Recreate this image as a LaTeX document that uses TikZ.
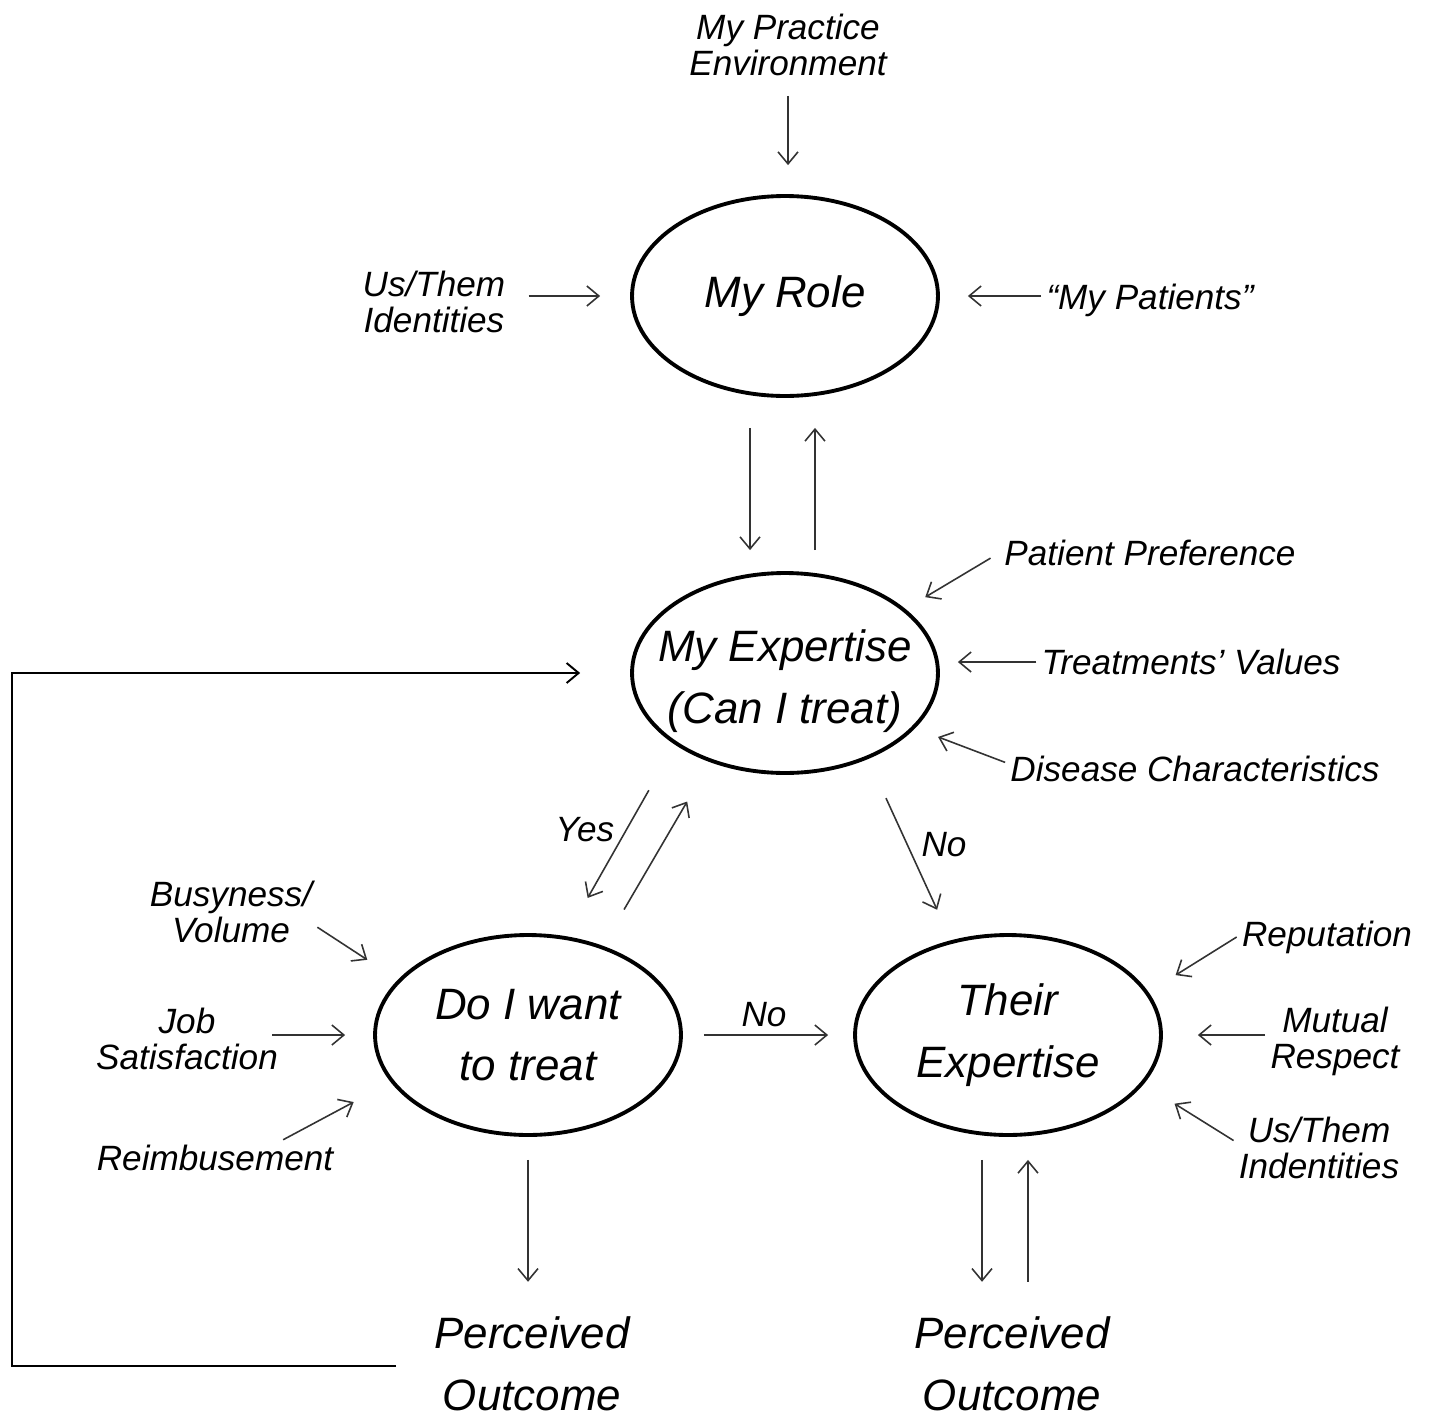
\documentclass[tikz,border=0pt]{standalone}
\usepackage{fontspec}
\setmainfont{Liberation Sans}
\usetikzlibrary{shapes.geometric, arrows.meta}
\tikzset{
  stage/.style={ellipse, draw, line width=2.2pt, minimum width=6.12cm, minimum height=4cm,
        inner xsep=-5mm, inner ysep=0pt, align=center, font=\itshape\fontsize{25}{35}\selectfont},
  outcome/.style={align=center, inner sep=1mm, font=\itshape\fontsize{25}{35}\selectfont},
  factor/.style={align=center, inner sep=1mm, font=\itshape\fontsize{20}{20.5}\selectfont},
  arr/.style={-{Straight Barb[length=2.4mm, width=4mm]}, line width=0.9pt, black!80},
  fb/.style={-{Straight Barb[length=2.4mm, width=4mm]}, line width=1.1pt}
}

\begin{document}
\begin{tikzpicture}[x=0.02cm, y=-0.02cm]
  \useasboundingbox (0,0) rectangle (1430,1420);

  \node[stage, text height=2.2cm] (expert) at (785,673) {My Expertise\\(Can I treat)};
  \node[stage] (role) at (785,296) {My Role};
  \node[stage] (want) at (528,1035) {Do I want\\to treat};
  \node[stage] (their) at (1008,1035) {Their\\Expertise};
  \node[outcome] (perc1) at (532,1364) {Perceived\\Outcome};
  \node[outcome] (perc2) at (1012,1364) {Perceived\\Outcome};

  \node[factor] (env) at (788,45) {My Practice\\Environment};
  \node[factor] (usthem) at (434,302) {Us/Them\\Identities};
  \node[factor] (mypat) at (1150,300) {“My Patients”};
  \node[factor] (pref) at (1150,553) {Patient Preference};
  \node[factor] (values) at (1191,662) {Treatments’ Values};
  \node[factor] (disease) at (1195,769) {Disease Characteristics};
  \node[factor] (busy) at (231,912) {Busyness/\\Volume};
  \node[factor] (job) at (187,1039) {Job\\Satisfaction};
  \node[factor] (reimb) at (215,1158) {Reimbusement};
  \node[factor] (reput) at (1327,937) {Reputation};
  \node[factor] (mutual) at (1335,1041) {Mutual\\Respect};
  \node[factor] (usthem2) at (1319,1148) {Us/Them\\Indentities};
  \node[factor] (yes) at (585,830) {Yes};
  \node[factor] (no1) at (944,845) {No};
  \node[factor] (no2) at (764,1015) {No};

  % my role
  \draw[arr, shorten <=0.29cm, shorten >=0.58cm] (env.south) -- (env.south |- role.north);
  \draw[arr, shorten <=0.36cm, shorten >=0.6cm] (usthem.east |- role.west) -- (role.west);
  \draw[arr, shorten >=0.56cm] (mypat.west |- role.east) -- (role.east);
  \draw[arr, shorten <=0.6cm, shorten >=0.42cm] ([xshift=-0.7cm]role.south) -- ([xshift=-0.7cm]expert.north);
  \draw[arr, shorten <=0.42cm, shorten >=0.6cm] ([xshift=0.6cm]expert.north) -- ([xshift=0.6cm]role.south);

  % my expertise
  \draw[arr, shorten <=0.2cm, shorten >=0.46cm] (pref.west) -- (expert.28);
  \draw[arr, shorten >=0.36cm] (values.west) -- (values.west -| expert.east);
  \draw[arr, shorten >=0.49cm] (disease.178) -- (expert.-23);
  \draw[arr, shorten <=1.05cm, shorten >=0.88cm] (expert.-147) -- (want.69);
  \draw[arr, shorten <=0.84cm, shorten >=0.91cm] (want.50) -- (expert.-130);
  \draw[arr, shorten <=0.86cm, shorten >=0.67cm] (expert.-46) -- (their.121);

  % do I want to treat
  \draw[arr, shorten >=0.73cm] (busy.-10) -- (want.157);
  \draw[arr, shorten <=-0.22cm, shorten >=0.56cm] (job.east |- want.west) -- (want.west);
  \draw[arr, shorten >=0.84cm] (reimb.15) -- (want.-161);
  \draw[arr, shorten <=0.42cm, shorten >=0.5cm] (want.east) -- (their.west);
  \draw[arr, shorten <=0.46cm, shorten >=0.6cm] (want.south) -- (want.south |- perc1.north);

  % their expertise
  \draw[arr, shorten >=0.64cm] (reput.west) -- (their.17);
  \draw[arr, shorten >=0.7cm] (mutual.west |- their.east) -- (their.east);
  \draw[arr, shorten >=0.73cm] (usthem2.175) -- (their.-20);
  \draw[arr, shorten <=0.46cm, shorten >=0.6cm] ([xshift=-0.52cm]their.south) -- ([xshift=-0.52cm]their.south |- perc2.north);
  \draw[arr, shorten <=0.6cm, shorten >=0.46cm] ([xshift=0.4cm]their.south |- perc2.north) -- ([xshift=0.4cm]their.south);

  % feedback loop
  \coordinate (loop) at (12,1366);
  \draw[fb, shorten <=0.66cm, shorten >=1cm] (perc1.west |- loop) -- (loop) |- (expert.west);
\end{tikzpicture}
\end{document}
